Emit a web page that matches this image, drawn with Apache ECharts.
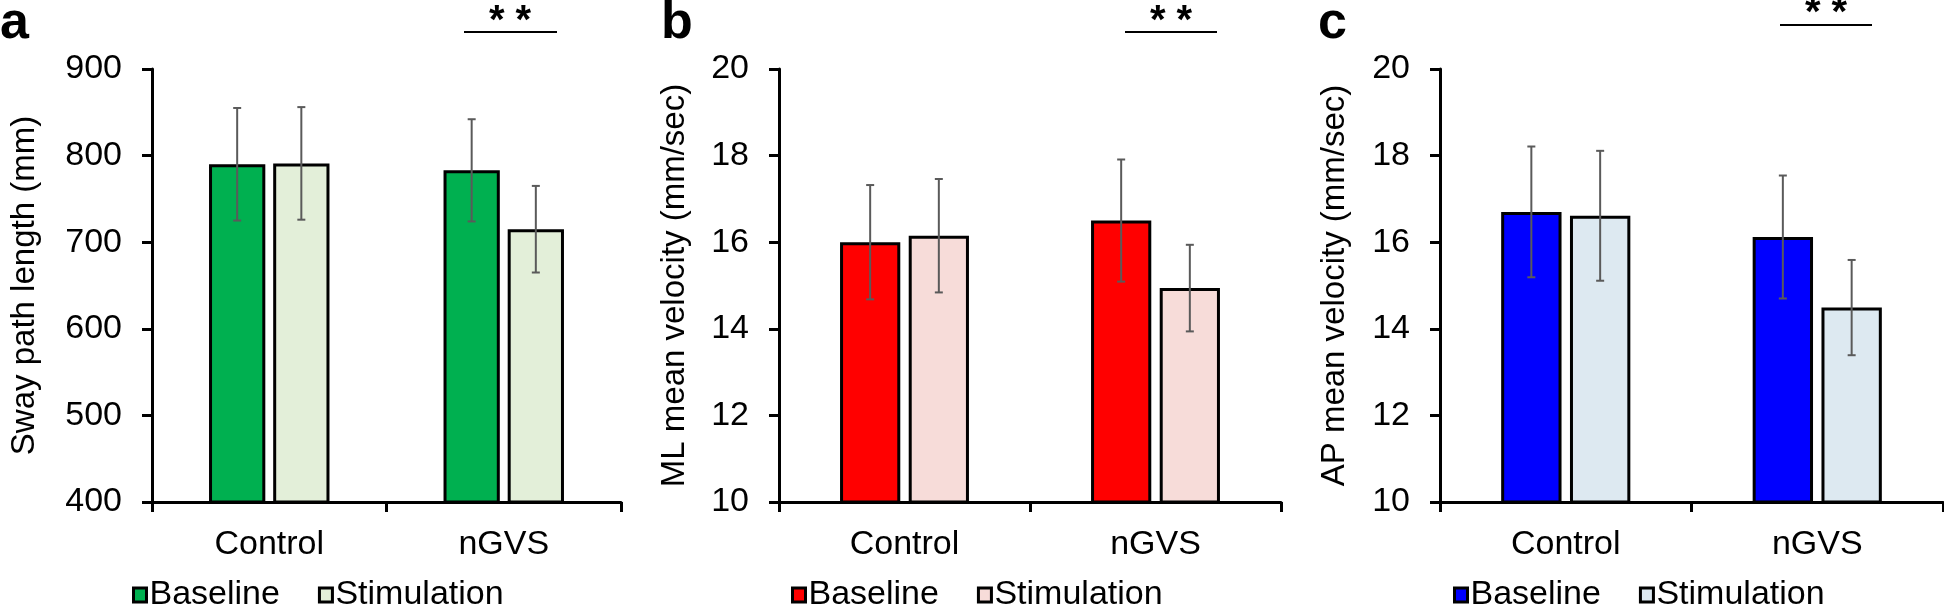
<!DOCTYPE html>
<html>
<head>
<meta charset="utf-8">
<script src="https://cdn.jsdelivr.net/npm/echarts@6/dist/echarts.min.js"></script>
<style>
  html, body { margin: 0; padding: 0; background: #fff; overflow: hidden; }
  #wrap { position: relative; width: 1944px; height: 609px; overflow: hidden; }
  .panel { position: absolute; top: 0; height: 700px; width: 648px; }
</style>
</head>
<body>
<div id="wrap">
  <div id="pa" class="panel" style="left:0px"></div>
  <div id="pb" class="panel" style="left:648px"></div>
  <div id="pc" class="panel" style="left:1296px"></div>
</div>
<script>
// ---------- data ----------
const categories = ['Control', 'nGVS'];
const seriesNames = ['Baseline', 'Stimulation'];

const swayBaseline = [790, 783];
const swayBaselineSD = [65, 59];
const swayStimulation = [791, 715];
const swayStimulationSD = [65, 50];
const swayTicks = [400, 500, 600, 700, 800, 900];

const mlBaseline = [16.0, 16.5];
const mlBaselineSD = [1.32, 1.41];
const mlStimulation = [16.15, 14.94];
const mlStimulationSD = [1.31, 1.0];
const mlTicks = [10, 12, 14, 16, 18, 20];

const apBaseline = [16.7, 16.12];
const apBaselineSD = [1.51, 1.42];
const apStimulation = [16.61, 14.49];
const apStimulationSD = [1.5, 1.1];
const apTicks = [10, 12, 14, 16, 18, 20];

const sigLabel = '* *';

// ---------- styling ----------
const FONT = "'Liberation Sans', Arial, sans-serif";
const PANEL_H = 700;
const BAR_W = 0.24;   // fraction of band
const BAR_GAP = 0.14; // fraction of bar width

function buildPanel(dom, cfg) {
  const chart = echarts.init(dom, null, { renderer: 'canvas' });
  const ticks = cfg.ticks;
  const errData = [];
  [cfg.base, cfg.stim].forEach((vals, si) => {
    const sds = si === 0 ? cfg.baseSD : cfg.stimSD;
    vals.forEach((v, ci) => errData.push([ci, v, sds[ci], si]));
  });
  const option = {
    animation: false,
    textStyle: { fontFamily: FONT },
    grid: { left: cfg.grid[0], right: cfg.grid[1], top: 69, bottom: PANEL_H - 502 },
    legend: {
      data: seriesNames,
      left: cfg.legendLeft,
      top: 578,
      padding: 0,
      icon: 'rect',
      itemWidth: 13,
      itemHeight: 14,
      itemGap: 38,
      itemStyle: { borderColor: '#000', borderWidth: 3 },
      textStyle: { fontSize: 34, color: '#000', fontFamily: FONT, padding: [0, 0, 0, -2] }
    },
    xAxis: {
      type: 'category',
      data: categories,
      axisLine: { lineStyle: { color: '#000', width: 3 } },
      axisTick: { show: true, length: 10, lineStyle: { color: '#000', width: 3 } },
      axisLabel: { fontSize: 34, color: '#000', margin: 26, fontFamily: FONT },
      splitLine: { show: false }
    },
    yAxis: {
      type: 'value',
      min: ticks[0],
      max: ticks[ticks.length - 1],
      interval: ticks[1] - ticks[0],
      name: cfg.yName,
      nameLocation: 'middle',
      nameGap: cfg.nameGap,
      nameTextStyle: { fontSize: 33, color: '#000', fontFamily: FONT },
      axisLine: { show: true, lineStyle: { color: '#000', width: 3 } },
      axisTick: { show: true, length: 10, lineStyle: { color: '#000', width: 3 } },
      axisLabel: { fontSize: 34, color: '#000', margin: 30, fontFamily: FONT },
      splitLine: { show: false }
    },
    series: [
      {
        name: seriesNames[0], type: 'bar', data: cfg.base,
        barWidth: (BAR_W * 100) + '%', barGap: (BAR_GAP * 100) + '%',
        itemStyle: { color: cfg.colors[0], borderColor: '#000', borderWidth: 3 }
      },
      {
        name: seriesNames[1], type: 'bar', data: cfg.stim,
        barWidth: (BAR_W * 100) + '%', barGap: (BAR_GAP * 100) + '%',
        itemStyle: { color: cfg.colors[1], borderColor: '#000', borderWidth: 3 }
      },
      {
        name: 'err', type: 'custom', z: 10, data: errData,
        renderItem: function (params, api) {
          const ci = api.value(0), v = api.value(1), sd = api.value(2), si = api.value(3);
          const band = api.size([1, 0])[0];
          const bw = band * BAR_W;
          const off = (si === 0 ? -1 : 1) * (bw * (1 + BAR_GAP)) / 2;
          const cx = api.coord([ci, v])[0] + off;
          const yHi = api.coord([ci, v + sd])[1];
          const yLo = api.coord([ci, v - sd])[1];
          const cap = 4;
          const st = { stroke: '#5a5a5a', lineWidth: 2 };
          return {
            type: 'group',
            children: [
              { type: 'line', shape: { x1: cx, y1: yHi, x2: cx, y2: yLo }, style: st },
              { type: 'line', shape: { x1: cx - cap, y1: yHi, x2: cx + cap, y2: yHi }, style: st },
              { type: 'line', shape: { x1: cx - cap, y1: yLo, x2: cx + cap, y2: yLo }, style: st }
            ]
          };
        }
      }
    ],
    graphic: [
      {
        type: 'text', left: cfg.letterX, top: cfg.letterTop,
        style: { text: cfg.letter, font: 'bold 52px ' + FONT, fill: '#000' }
      },
      {
        type: 'line', shape: { x1: cfg.sig[0], y1: cfg.sig[2], x2: cfg.sig[1], y2: cfg.sig[2] },
        style: { stroke: '#000', lineWidth: 2 }
      },
      {
        type: 'text', x: cfg.sigText[0], y: cfg.sigText[1],
        style: { text: sigLabel, font: 'bold 40px ' + FONT, fill: '#000', align: 'center', verticalAlign: 'middle' }
      }
    ]
  };
  chart.setOption(option);
  return chart;
}

buildPanel(document.getElementById('pa'), {
  base: swayBaseline, baseSD: swayBaselineSD, stim: swayStimulation, stimSD: swayStimulationSD,
  ticks: swayTicks, yName: 'Sway path length (mm)', nameGap: 111,
  grid: [137, 27], colors: ['#00b050', '#e3efd9'],
  legendLeft: 132, letter: 'a', letterX: 0, letterTop: -2,
  sig: [464, 557, 32], sigText: [510, 22]
});
buildPanel(document.getElementById('pb'), {
  base: mlBaseline, baseSD: mlBaselineSD, stim: mlStimulation, stimSD: mlStimulationSD,
  ticks: mlTicks, yName: 'ML mean velocity (mm/sec)', nameGap: 88,
  grid: [131, 15], colors: ['#ff0000', '#f7dcd9'],
  legendLeft: 143, letter: 'b', letterX: 13, letterTop: -2,
  sig: [477, 569, 32], sigText: [523, 22]
});
buildPanel(document.getElementById('pc'), {
  base: apBaseline, baseSD: apBaselineSD, stim: apStimulation, stimSD: apStimulationSD,
  ticks: apTicks, yName: 'AP mean velocity (mm/sec)', nameGap: 89,
  grid: [144, 1], colors: ['#0000ff', '#dde9f1'],
  legendLeft: 157, letter: 'c', letterX: 22, letterTop: -2,
  sig: [484, 576, 25], sigText: [530, 14]
});
</script>
</body>
</html>
